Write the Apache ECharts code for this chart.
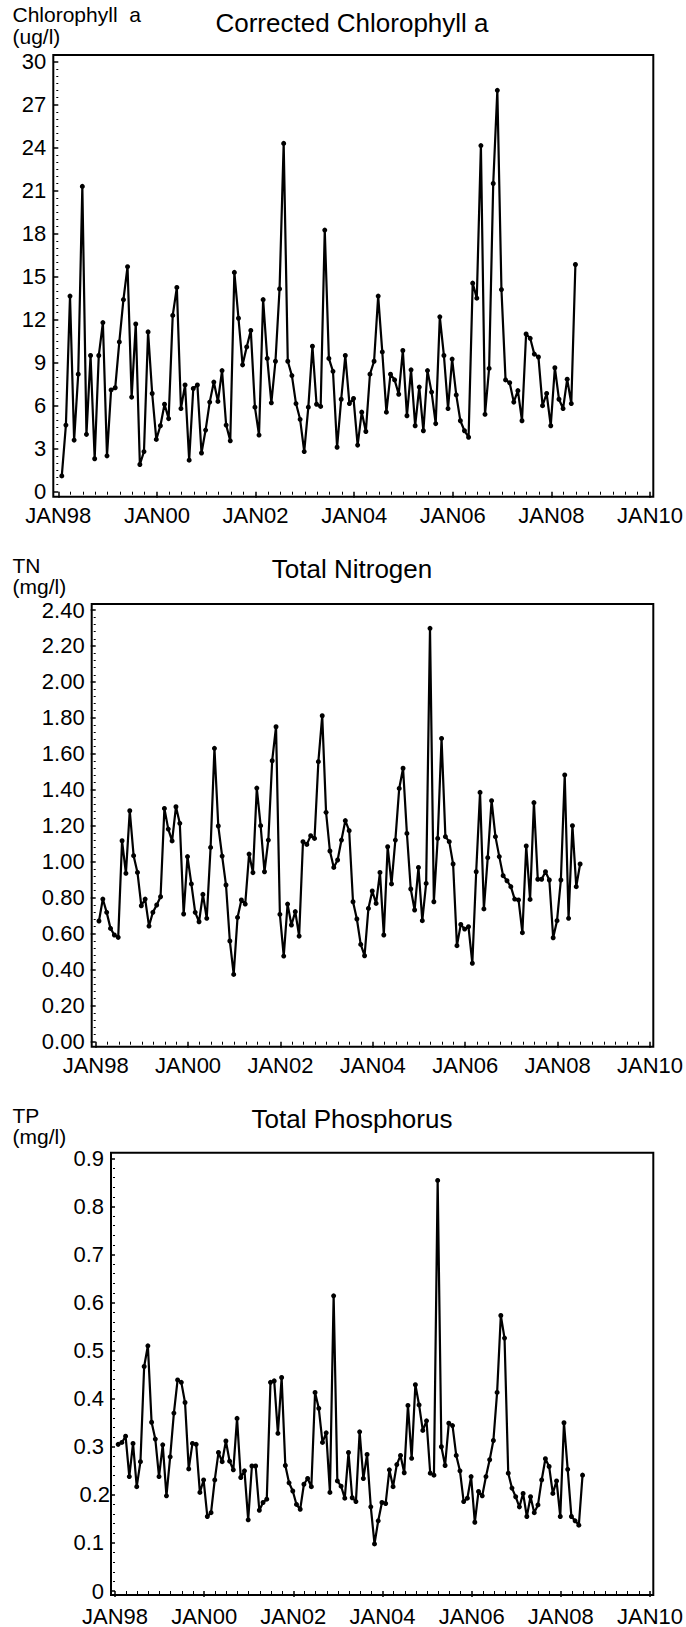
<!DOCTYPE html>
<html>
<head>
<meta charset="utf-8">
<script src="https://cdn.jsdelivr.net/npm/echarts@6/dist/echarts.min.js"></script>
<style>
  html, body { margin: 0; padding: 0; background: #fff; }
  #chart { width: 686px; height: 1627px; }
</style>
</head>
<body>
<div id="chart"></div>
<script>
// ---- Data (monthly samples, Jan 1998 .. Jun 2008) ----
const startYear = 1998;
const sampleCount = 126;            // one sample per month
const sampleDayFraction = 0.85;     // samples fall late in each month

const xTickLabels = ['JAN98', 'JAN00', 'JAN02', 'JAN04', 'JAN06', 'JAN08', 'JAN10'];

const chlorophyll = [
  1.1, 4.65, 13.65, 3.6, 8.2, 21.3, 4.0, 9.5, 2.3, 9.5,
  11.8, 2.5, 7.1, 7.25, 10.45, 13.4, 15.7, 6.6, 11.7, 1.9,
  2.8, 11.15, 6.85, 3.65, 4.6, 6.1, 5.1, 12.3, 14.25, 5.8,
  7.45, 2.2, 7.2, 7.45, 2.7, 4.3, 6.25, 7.65, 6.3, 8.45,
  4.65, 3.55, 15.3, 12.1, 8.85, 10.1, 11.25, 5.9, 3.95, 13.4,
  9.3, 6.2, 9.1, 14.15, 24.3, 9.1, 8.1, 6.15, 5.05, 2.8,
  5.9, 10.15, 6.1, 5.95, 18.25, 9.3, 8.4, 3.1, 6.45, 9.5,
  6.15, 6.5, 3.25, 5.55, 4.2, 8.2, 9.1, 13.65, 9.75, 5.55,
  8.2, 7.8, 6.8, 9.85, 5.3, 8.5, 4.6, 7.3, 4.25, 8.45,
  6.95, 4.75, 12.2, 9.5, 5.8, 9.25, 6.75, 4.95, 4.25, 3.8,
  14.55, 13.5, 24.15, 5.4, 8.6, 21.5, 28.0, 14.1, 7.8, 7.6,
  6.25, 7.05, 4.95, 11.0, 10.7, 9.6, 9.4, 6.0, 6.85, 4.6,
  8.65, 6.45, 5.8, 7.85, 6.15, 15.85
];

const totalNitrogen = [
  0.671, 0.793, 0.719, 0.630, 0.593, 0.580, 1.117, 0.936, 1.284, 1.034,
  0.941, 0.756, 0.793, 0.643, 0.719, 0.760, 0.806, 1.297, 1.182, 1.116,
  1.306, 1.214, 0.710, 1.029, 0.877, 0.719, 0.667, 0.819, 0.686, 1.080,
  1.631, 1.199, 1.032, 0.871, 0.560, 0.374, 0.691, 0.788, 0.765, 1.043,
  0.940, 1.410, 1.201, 0.945, 1.121, 1.562, 1.751, 0.708, 0.476, 0.765,
  0.649, 0.723, 0.587, 1.112, 1.097, 1.145, 1.130, 1.557, 1.812, 1.275,
  1.060, 0.969, 1.010, 1.121, 1.229, 1.173, 0.778, 0.682, 0.541, 0.478,
  0.741, 0.838, 0.769, 0.941, 0.593, 1.084, 0.877, 1.121, 1.408, 1.520,
  1.158, 0.849, 0.732, 0.969, 0.673, 0.880, 2.298, 0.778, 1.130, 1.686,
  1.140, 1.112, 0.988, 0.534, 0.652, 0.626, 0.639, 0.436, 0.945, 1.386,
  0.738, 1.023, 1.340, 1.140, 1.029, 0.923, 0.895, 0.862, 0.793, 0.788,
  0.606, 1.088, 0.791, 1.329, 0.903, 0.903, 0.945, 0.899, 0.578, 0.673,
  0.899, 1.483, 0.686, 1.201, 0.862, 0.988
];

const totalPhosphorus = [
  0.305, 0.309, 0.322, 0.238, 0.307, 0.217, 0.269, 0.467, 0.510, 0.351,
  0.316, 0.238, 0.304, 0.198, 0.279, 0.370, 0.439, 0.434, 0.392, 0.254,
  0.307, 0.305, 0.205, 0.231, 0.155, 0.163, 0.231, 0.288, 0.269, 0.312,
  0.270, 0.252, 0.359, 0.236, 0.250, 0.148, 0.260, 0.260, 0.168, 0.184,
  0.191, 0.434, 0.437, 0.328, 0.444, 0.261, 0.225, 0.208, 0.180, 0.170,
  0.222, 0.234, 0.217, 0.413, 0.380, 0.309, 0.329, 0.205, 0.614, 0.229,
  0.218, 0.193, 0.288, 0.194, 0.186, 0.331, 0.234, 0.284, 0.175, 0.098,
  0.146, 0.184, 0.182, 0.252, 0.217, 0.263, 0.282, 0.246, 0.386, 0.276,
  0.429, 0.387, 0.334, 0.354, 0.245, 0.241, 0.854, 0.300, 0.261, 0.349,
  0.344, 0.282, 0.250, 0.186, 0.193, 0.238, 0.143, 0.207, 0.198, 0.238,
  0.273, 0.313, 0.413, 0.573, 0.526, 0.245, 0.214, 0.196, 0.175, 0.203,
  0.155, 0.196, 0.163, 0.179, 0.231, 0.275, 0.259, 0.203, 0.229, 0.155,
  0.350, 0.253, 0.155, 0.146, 0.137, 0.241
];

const titles = ['Corrected Chlorophyll a', 'Total Nitrogen', 'Total Phosphorus'];
const yNames = [['Chlorophyll  a', '(ug/l)'], ['TN', '(mg/l)'], ['TP', '(mg/l)']];

// ---- Build chart ----
// months since JAN98 for each sample
const sampleMonths = [];
for (let i = 0; i < sampleCount; i++) sampleMonths.push(i + sampleDayFraction);

const FONT = '"Liberation Sans", Arial, Helvetica, sans-serif';
const TICK_FS = 22;
const NAME_FS = 21;
const NAME_GAP = 21.5;

// layout (pixels): frame rectangle and the tick-range rectangle inside it
const panels = [
  { frame: [53.3, 55, 653.3, 496.7], inner: [58.3, 61.7, 650, 491.7],
    ymax: 30, interval: 3, minorSplit: 6, data: chlorophyll,
    fmt: v => String(Math.round(v)), xMargin: 2,
    nameY: 14.8, titleY: 22.7 },
  { frame: [91.7, 604, 653.3, 1046.7], inner: [95.7, 610, 650, 1041.7],
    ymax: 2.4, interval: 0.2, minorSplit: 5, data: totalNitrogen,
    fmt: v => v.toFixed(2), xMargin: 2,
    nameY: 565.4, titleY: 569.3 },
  { frame: [111, 1152.7, 653.3, 1595], inner: [115, 1158.3, 650, 1591],
    ymax: 0.9, interval: 0.1, minorSplit: 5, data: totalPhosphorus,
    fmt: v => (Math.abs(v) < 1e-9 ? '0' : v.toFixed(1)), xMargin: 4,
    nameY: 1115.4, titleY: 1119.3, shiftLabel: '0.2' }
];

const grid = [], xAxis = [], yAxis = [], series = [], graphic = [];

panels.forEach((p, k) => {
  const [fl, ft, fr, fb] = p.frame;
  const [il, it, ir, ib] = p.inner;
  // frame grid
  grid.push({ left: fl, top: ft, width: fr - fl, height: fb - ft, show: true,
              borderColor: '#000', borderWidth: 2, backgroundColor: 'transparent', containLabel: false });
  xAxis.push({ gridIndex: 2 * k, type: 'value', show: false, min: 0, max: 1 });
  yAxis.push({ gridIndex: 2 * k, type: 'value', show: false, min: 0, max: 1 });
  // data grid
  grid.push({ left: il, top: it, width: ir - il, height: ib - it, show: false, containLabel: false });
  xAxis.push({
    gridIndex: 2 * k + 1, type: 'value', min: 0, max: 144, interval: 24,
    position: 'bottom', offset: fb - ib,
    axisLine: { show: false },
    axisTick: { show: true, length: 6, lineStyle: { color: '#000', width: 1.5 } },
    minorTick: { show: true, splitNumber: 8, length: 3, lineStyle: { color: '#000', width: 1 } },
    splitLine: { show: false }, minorSplitLine: { show: false },
    axisLabel: {
      show: true, margin: 6 + p.xMargin, color: '#000', fontSize: TICK_FS, fontFamily: FONT,
      showMinLabel: true, showMaxLabel: true, hideOverlap: false,
      formatter: v => xTickLabels[Math.round(v / 24)] || ''
    }
  });
  let labelOpt;
  if (p.shiftLabel) {
    labelOpt = {
      show: true, margin: 1, showMinLabel: true, showMaxLabel: true, hideOverlap: false,
      formatter: v => {
        const s = p.fmt(v);
        return s === p.shiftLabel ? '{s|' + s + '}' : '{n|' + s + '}';
      },
      rich: {
        n: { color: '#000', fontSize: TICK_FS, fontFamily: FONT, padding: [0, 6, 0, 0] },
        s: { color: '#000', fontSize: TICK_FS, fontFamily: FONT }
      }
    };
  } else {
    labelOpt = {
      show: true, margin: 7, color: '#000', fontSize: TICK_FS, fontFamily: FONT,
      showMinLabel: true, showMaxLabel: true, hideOverlap: false, formatter: p.fmt
    };
  }
  yAxis.push({
    gridIndex: 2 * k + 1, type: 'value', min: 0, max: p.ymax, interval: p.interval,
    position: 'left', offset: il - fl,
    axisLine: { show: false },
    axisTick: { show: true, length: 5, lineStyle: { color: '#000', width: 1.5 } },
    minorTick: { show: true, splitNumber: p.minorSplit, length: 2, lineStyle: { color: '#000', width: 1 } },
    splitLine: { show: false }, minorSplitLine: { show: false },
    axisLabel: labelOpt
  });
  series.push({
    type: 'line', xAxisIndex: 2 * k + 1, yAxisIndex: 2 * k + 1,
    data: p.data.map((v, i) => [sampleMonths[i], v]),
    symbol: 'circle', symbolSize: 5, showSymbol: true, clip: false,
    lineStyle: { color: '#000', width: 2.2 },
    itemStyle: { color: '#000' },
    emphasis: { disabled: true }, silent: true
  });
  // texts
  graphic.push({ type: 'text', x: 12.5, y: p.nameY, silent: true,
    style: { text: yNames[k][0], fill: '#000', font: NAME_FS + 'px ' + FONT,
             align: 'left', verticalAlign: 'middle' } });
  graphic.push({ type: 'text', x: 12.5, y: p.nameY + NAME_GAP, silent: true,
    style: { text: yNames[k][1], fill: '#000', font: NAME_FS + 'px ' + FONT,
             align: 'left', verticalAlign: 'middle' } });
  graphic.push({ type: 'text', x: 352, y: p.titleY, silent: true,
    style: { text: titles[k], fill: '#000', font: '26px ' + FONT, align: 'center', verticalAlign: 'middle' } });
});

const chart = echarts.init(document.getElementById('chart'), null, { renderer: 'svg', width: 686, height: 1627 });
chart.setOption({
  animation: false,
  backgroundColor: '#fff',
  grid, xAxis, yAxis, series, graphic
});
</script>
</body>
</html>
